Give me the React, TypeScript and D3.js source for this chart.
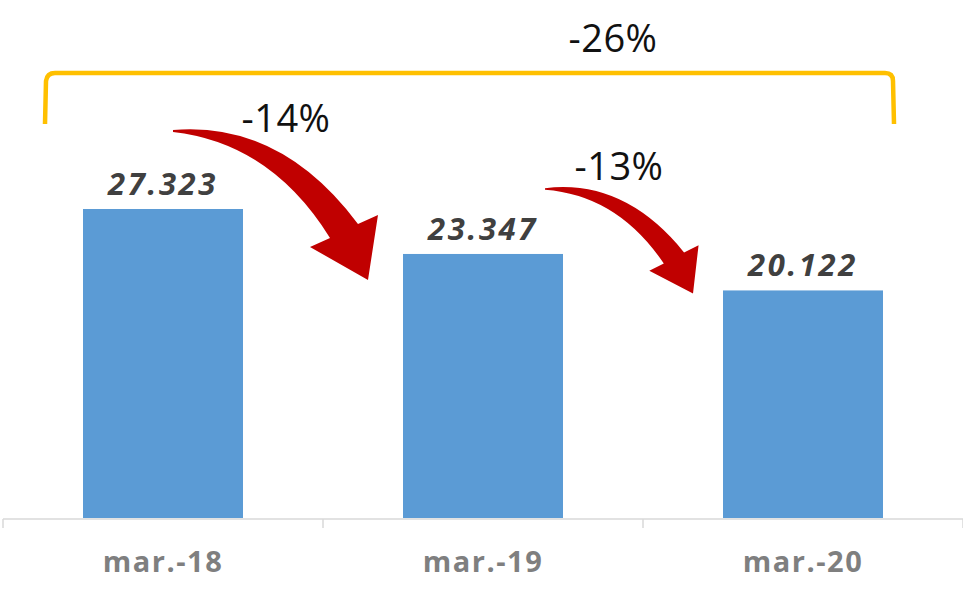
import * as d3 from 'd3';
import { useRef, useEffect } from "react"

const categories = ["mar.-18", "mar.-19", "mar.-20"]
const values = [27.323, 23.347, 20.122]
const valueLabels = ["27.323", "23.347", "20.122"]
const stepLabels = ["-14%", "-13%"]
const totalLabel = "-26%"

function App() {
    const ref = useRef<SVGSVGElement | null>(null)

    useEffect(() => {
        renderChart();
    }, [])

    function renderChart() {
        const width = 963
        const height = 603
        const baseline = 518

        const svg = d3.select(ref.current!)
        svg.selectAll("*").remove()

        const x = d3.scaleBand<string>()
            .domain(categories)
            .range([3, 963])
            .paddingInner(0.5)
            .paddingOuter(0.25)

        const y = d3.scaleLinear()
            .domain([0, 27.323])
            .range([baseline, 209])

        // bars
        svg.append("g")
            .selectAll("rect")
            .data(values)
            .enter()
            .append("rect")
            .attr("x", (_, i) => x(categories[i])!)
            .attr("y", d => y(d))
            .attr("width", x.bandwidth())
            .attr("height", d => baseline - y(d))
            .style("fill", "#5B9BD5")

        // axis line + ticks between categories
        const step = x.step()
        const axis = svg.append("g").attr("stroke", "#d9d9d9").attr("stroke-width", 1.5)
        axis.append("line")
            .attr("x1", 3).attr("x2", width)
            .attr("y1", baseline + 1).attr("y2", baseline + 1)
        d3.range(categories.length + 1).forEach(i => {
            axis.append("line")
                .attr("x1", 3 + i * step).attr("x2", 3 + i * step)
                .attr("y1", baseline + 1).attr("y2", baseline + 10)
        })

        // category labels
        svg.append("g")
            .selectAll("text")
            .data(categories)
            .enter()
            .append("text")
            .attr("x", d => x(d)! + x.bandwidth() / 2)
            .attr("y", 572)
            .attr("text-anchor", "middle")
            .style("font-family", "'Open Sans', sans-serif")
            .style("font-weight", "bold")
            .style("font-size", "29px")
            .style("letter-spacing", "1.5px")
            .style("fill", "#7f7f7f")
            .text(d => d)

        // value labels
        svg.append("g")
            .selectAll("text")
            .data(values)
            .enter()
            .append("text")
            .attr("x", (_, i) => x(categories[i])! + x.bandwidth() / 2)
            .attr("y", d => y(d) - 14)
            .attr("text-anchor", "middle")
            .style("font-family", "'Open Sans', sans-serif")
            .style("font-weight", "bold")
            .style("font-style", "italic")
            .style("font-size", "31px")
            .style("letter-spacing", "2.6px")
            .style("fill", "#404040")
            .text((_, i) => valueLabels[i])

        // yellow bracket over all bars
        const bx0 = x(categories[0])! - 38
        const bx1 = x(categories[categories.length - 1])! + x.bandwidth() + 10
        const by = 73
        const bBottom = 124
        svg.append("path")
            .attr("d", `M${bx0},${bBottom} L${bx0 + 1},${by + 8} Q${bx0 + 2},${by} ${bx0 + 10},${by} L${bx1 - 8},${by} Q${bx1},${by} ${bx1},${by + 8} L${bx1 + 1},${bBottom}`)
            .attr("fill", "none")
            .attr("stroke", "#FFC000")
            .attr("stroke-width", 4.5)

        const pctFont = (sel: any) => sel
            .attr("text-anchor", "middle")
            .style("font-family", "'Open Sans', sans-serif")
            .style("font-size", "38px")
            .style("letter-spacing", "0.5px")
            .style("fill", "#111")

        svg.append("text")
            .attr("x", 613).attr("y", 52)
            .call(pctFont)
            .text(totalLabel)

        // curved red arrows between consecutive bars
        // reference shape: tail at (0,0), tip at (195,149)
        const refTip = [195, 149]
        const shape = "M0,-1 Q108,-10 185,93 L205,84 L195,149 L137,116 L157,107 Q98,12 0,1 Z"
        const arrows = [
            { tail: [x(categories[0])! + 90, y(values[0]) - 78], tip: [x(categories[1])! - 35, y(values[1]) + 26], label: [286, 132] },
            { tail: [x(categories[1])! + 142, y(values[1]) - 65], tip: [x(categories[2])! - 30, y(values[2]) + 3], label: [619, 180] },
        ]
        const refAng = Math.atan2(refTip[1], refTip[0])
        const refLen = Math.hypot(refTip[0], refTip[1])
        arrows.forEach((a, i) => {
            const dx = a.tip[0] - a.tail[0]
            const dy = a.tip[1] - a.tail[1]
            const ang = (Math.atan2(dy, dx) - refAng) * 180 / Math.PI
            const s = Math.hypot(dx, dy) / refLen
            svg.append("path")
                .attr("d", shape)
                .attr("transform", `translate(${a.tail[0]},${a.tail[1]}) rotate(${ang}) scale(${s})`)
                .attr("fill", "#C00000")
            svg.append("text")
                .attr("x", a.label[0]).attr("y", a.label[1])
                .call(pctFont)
                .text(stepLabels[i])
        })

        svg.attr("width", width).attr("height", height)
    }

    return (
        <svg
            width={963}
            height={603}
            ref={ref}
            style={{ position: 'absolute', left: 0, top: 0, background: '#fff' }}
        />
    )
}

export default App;
